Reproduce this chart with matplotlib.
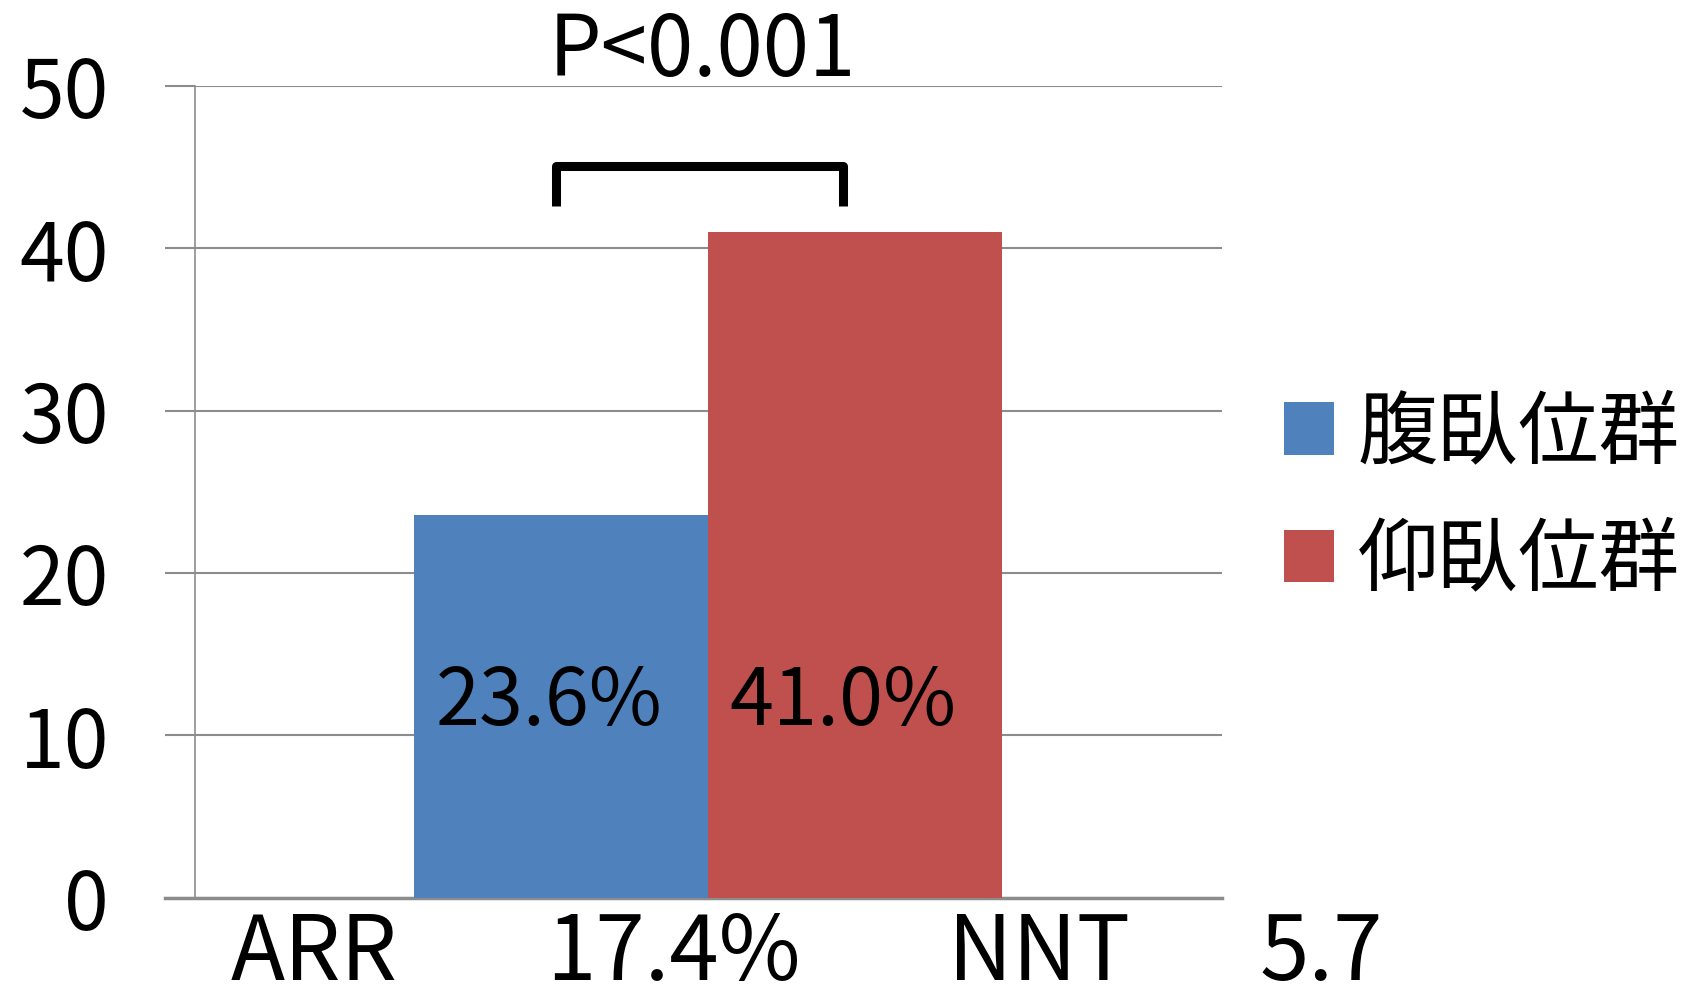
import numpy as np
import matplotlib
matplotlib.use("Agg")
import matplotlib.pyplot as plt
from matplotlib.patches import Patch

plt.rcParams['font.family'] = ['Noto Sans CJK JP', 'DejaVu Sans']

grupper = ['腹臥位群', '仰臥位群']
verdier = [23.6, 41.0]
farger = ['#4F81BD', '#C0504D']
etiketter = ['23.6%', '41.0%']
bunntekst = ['ARR', '17.4%', 'NNT', '5.7']
p_tekst = 'P<0.001'
y_ticks = [0, 10, 20, 30, 40, 50]

grid_farge = '#8C8C8C'

fig = plt.figure(figsize=(17.06, 10.01), dpi=100)
ax = fig.add_axes([0.1141, 0.1033, 0.6021, 0.8108])

bredde = 0.286
x_pos = np.array([-0.5, 0.5]) * bredde
ax.bar(x_pos, verdier, width=bredde, color=farger, zorder=3)

for x, tekst in zip(x_pos, etiketter):
    ax.text(x - 0.012, 12, tekst, ha='center', va='center', fontsize=57,
            zorder=4)

# klamme med p-verdi
bx = [x_pos[0] - 0.005, x_pos[0] - 0.005, x_pos[1] - 0.012, x_pos[1] - 0.012]
by = [42.6, 45.1, 45.1, 42.6]
ax.plot(bx, by, color='black', lw=6.5, solid_joinstyle='round',
        solid_capstyle='butt', clip_on=False, zorder=5)
ax.text(-0.006, 50.6, p_tekst, ha='center', va='baseline',
        fontsize=60, clip_on=False)

ax.set_xlim(-0.5, 0.5)
ax.set_ylim(0, 50)
ax.set_yticks(y_ticks)
ax.set_yticklabels([str(t) for t in y_ticks], fontsize=58)
ax.set_xticks([])
ax.yaxis.grid(True, color=grid_farge, lw=1.5, zorder=0)
ax.tick_params(axis='y', length=21.5, width=1.5, color=grid_farge, pad=40,
               direction='out')

for side in ['top', 'right']:
    ax.spines[side].set_visible(False)
ax.spines['left'].set_color(grid_farge)
ax.spines['left'].set_linewidth(1.2)
ax.spines['bottom'].set_visible(False)
ax.axhline(0, xmin=-0.029, xmax=1.0, color=grid_farge, lw=2.5,
           clip_on=False, zorder=2)

# tekstlinje under aksen
x_tekst = [0.116, 0.466, 0.822, 1.097]
for xt, t in zip(x_tekst, bunntekst):
    ax.text(xt, -0.102, t, transform=ax.transAxes, ha='center',
            va='baseline', fontsize=64, clip_on=False)

handles = [Patch(facecolor=c, edgecolor='none') for c in farger]
ax.legend(handles, grupper, loc='center left', bbox_to_anchor=(1.0, 0.493),
          frameon=False, fontsize=58, handlelength=0.62, handleheight=0.62,
          handletextpad=0.3, labelspacing=0.56, borderaxespad=0.37)

plt.savefig('out.png', dpi=100)
